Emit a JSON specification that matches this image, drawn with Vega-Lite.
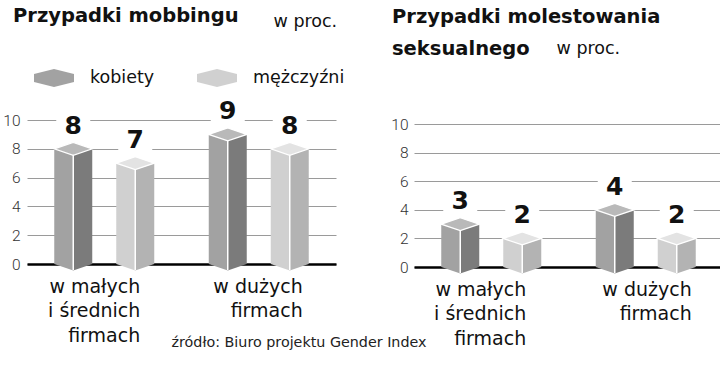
{
  "$schema": "https://vega.github.io/schema/vega-lite/v6.json",
  "background": "white",
  "padding": {"left": 2, "top": 5, "right": 0, "bottom": 0},
  "bounds": "flush",
  "spacing": 78,
  "config": {"view": {"stroke": null}, "font": "DejaVu Sans"},
  "resolve": {"scale": {"color": "independent", "y": "independent", "x": "independent", "xOffset": "independent"}},
  "datasets": {
    "mob": [
      {"group": "w małych i średnich firmach", "sex": "kobiety", "value": 8},
      {"group": "w małych i średnich firmach", "sex": "mężczyźni", "value": 7},
      {"group": "w dużych firmach", "sex": "kobiety", "value": 9},
      {"group": "w dużych firmach", "sex": "mężczyźni", "value": 8}
    ],
    "mol": [
      {"group": "w małych i średnich firmach", "sex": "kobiety", "value": 3},
      {"group": "w małych i średnich firmach", "sex": "mężczyźni", "value": 2},
      {"group": "w dużych firmach", "sex": "kobiety", "value": 4},
      {"group": "w dużych firmach", "sex": "mężczyźni", "value": 2}
    ]
  },
  "hconcat": [
    {
      "width": 309,
      "height": 144,
      "data": {"name": "mob"},
      "title": {"text": "Przypadki mobbingu", "anchor": "start", "frame": "group", "fontSize": 19.5, "fontWeight": "bold", "baseline": "alphabetic", "offset": -29, "dx": -14, "color": "#111"},
      "encoding": {
        "x": {"field": "group", "type": "nominal", "sort": ["w małych i średnich firmach", "w dużych firmach"],
          "scale": {"paddingInner": 0, "paddingOuter": 0},
          "axis": {"title": "źródło: Biuro projektu Gender Index", "titleX": 144, "titleY": 82, "titleAlign": "left", "titleAnchor": null, "titleBaseline": "alphabetic", "titleFontWeight": "normal", "titleFontSize": 14.3, "titleColor": "#222",
            "domain": true, "domainColor": "#000", "domainWidth": 2.5, "ticks": false, "grid": false, "labelAngle": 0,
            "labelExpr": "datum.value === 'w dużych firmach' ? ['w dużych', 'firmach'] : ['w małych', 'i średnich', 'firmach']",
            "labelAlign": "right", "labelBaseline": "alphabetic", "labelPadding": 28, "labelLineHeight": 24.5, "labelFontSize": 19, "labelColor": "#111",
            "labelOffset": {"condition": {"test": "datum.value === 'w dużych firmach'", "value": 44}, "value": 36}}},
        "xOffset": {"field": "sex", "type": "nominal", "sort": ["kobiety", "mężczyźni"], "scale": {"paddingInner": 0, "paddingOuter": 0.246}},
        "y": {"field": "value", "type": "quantitative", "scale": {"domain": [0, 10], "nice": false},
          "axis": {"values": [0, 2, 4, 6, 8, 10], "domain": false, "ticks": false, "grid": true, "gridColor": "#9a9a9a", "gridWidth": 1,
            "labelPadding": 7, "labelFont": "Roboto", "labelFontSize": 15.5, "labelFontWeight": 300, "labelColor": "#333",
            "title": "w proc.", "titleX": 246, "titleY": -94, "titleAngle": 0, "titleAlign": "left", "titleAnchor": null, "titleBaseline": "alphabetic", "titleFontWeight": "normal", "titleFontSize": 17.5, "titleColor": "#111"}}
      },
      "layer": [
        {"mark": {"type": "point", "shape": "M -1 -0.7 L 1 -0.7 L 1 0.7 L -1 0.7 Z", "size": 1156, "filled": true, "fill": "white", "opacity": 1, "yOffset": -24}},
        {"transform": [{"filter": "datum.sex === 'kobiety'"}],
          "mark": {"type": "bar", "width": 38, "fill": {"gradient": "linear", "x1": 0, "x2": 1, "y1": 0, "y2": 0, "stops": [{"offset": 0, "color": "#a2a2a2"}, {"offset": 0.5, "color": "#a2a2a2"}, {"offset": 0.5, "color": "#7b7b7b"}, {"offset": 1, "color": "#7b7b7b"}]}}},
        {"transform": [{"filter": "datum.sex === 'mężczyźni'"}],
          "mark": {"type": "bar", "width": 38, "fill": {"gradient": "linear", "x1": 0, "x2": 1, "y1": 0, "y2": 0, "stops": [{"offset": 0, "color": "#d0d0d0"}, {"offset": 0.5, "color": "#d0d0d0"}, {"offset": 0.5, "color": "#b3b3b3"}, {"offset": 1, "color": "#b3b3b3"}]}}},
        {"mark": {"type": "point", "shape": "M -1 0 L 0 0.34 L 0 0 Z", "size": 1444, "filled": true, "opacity": 1, "strokeWidth": 0},
          "encoding": {"y": {"datum": 0, "type": "quantitative"},
            "color": {"field": "sex", "type": "nominal", "sort": ["kobiety", "mężczyźni"], "scale": {"domain": ["kobiety", "mężczyźni"], "range": ["#a2a2a2", "#d0d0d0"]},
              "legend": {"orient": "none", "legendX": 7, "legendY": -62, "direction": "horizontal", "title": null, "columns": 2,
                "symbolType": "M -1 -0.2 L 0 -0.45 L 1 -0.2 L 1 0.2 L 0 0.45 L -1 0.2 Z", "symbolSize": 1600, "symbolStrokeWidth": 0, "symbolOpacity": 1,
                "labelFontSize": 17.5, "labelColor": "#111", "labelOffset": 16, "columnPadding": 42}}}},
        {"mark": {"type": "point", "shape": "M 0 0 L 0 0.34 L 1 0 Z", "size": 1444, "filled": true, "opacity": 1, "strokeWidth": 0},
          "encoding": {"y": {"datum": 0, "type": "quantitative"},
            "fill": {"condition": {"test": "datum.sex === 'kobiety'", "value": "#7b7b7b"}, "value": "#b3b3b3"}}},
        {"mark": {"type": "point", "shape": "M -1 0 L 0 -0.34 L 1 0 L 0 0.34 Z", "size": 1444, "filled": true, "opacity": 1, "stroke": "white", "strokeWidth": 1.3},
          "encoding": {"fill": {"condition": {"test": "datum.sex === 'kobiety'", "value": "#b9b9b9"}, "value": "#e3e3e3"}}},
        {"mark": {"type": "rule", "color": "white", "strokeWidth": 1.5, "yOffset": 6, "y2Offset": 6},
          "encoding": {"y2": {"datum": 0}}},
        {"mark": {"type": "text", "dy": -15, "fontSize": 25, "fontWeight": "bold", "baseline": "alphabetic", "color": "#111"},
          "encoding": {"text": {"field": "value", "type": "quantitative"}}}
      ]
    },
    {
      "width": 309,
      "height": 147,
      "data": {"name": "mol"},
      "title": {"text": ["Przypadki molestowania", "seksualnego"], "anchor": "start", "frame": "group", "fontSize": 19.5, "fontWeight": "bold", "baseline": "alphabetic", "lineHeight": 32, "offset": -35, "dx": -22, "color": "#111"},
      "encoding": {
        "x": {"field": "group", "type": "nominal", "sort": ["w małych i średnich firmach", "w dużych firmach"],
          "scale": {"paddingInner": 0, "paddingOuter": 0},
          "axis": {"title": null,
            "domain": true, "domainColor": "#000", "domainWidth": 2.5, "ticks": false, "grid": false, "labelAngle": 0,
            "labelExpr": "datum.value === 'w dużych firmach' ? ['w dużych', 'firmach'] : ['w małych', 'i średnich', 'firmach']",
            "labelAlign": "right", "labelBaseline": "alphabetic", "labelPadding": 28, "labelLineHeight": 24.5, "labelFontSize": 19, "labelColor": "#111",
            "labelOffset": {"condition": {"test": "datum.value === 'w dużych firmach'", "value": 46}, "value": 35}}},
        "xOffset": {"field": "sex", "type": "nominal", "sort": ["kobiety", "mężczyźni"], "scale": {"paddingInner": 0, "paddingOuter": 0.246}},
        "y": {"field": "value", "type": "quantitative", "scale": {"domain": [0, 10.3], "nice": false},
          "axis": {"values": [0, 2, 4, 6, 8, 10], "domain": false, "ticks": false, "grid": true, "gridColor": "#9a9a9a", "gridWidth": 1,
            "labelPadding": 6, "labelFont": "Roboto", "labelFontSize": 15.5, "labelFontWeight": 300, "labelColor": "#333",
            "title": "w proc.", "titleX": 142, "titleY": -67, "titleAngle": 0, "titleAlign": "left", "titleAnchor": null, "titleBaseline": "alphabetic", "titleFontWeight": "normal", "titleFontSize": 17.5, "titleColor": "#111"}}
      },
      "layer": [
        {"mark": {"type": "point", "shape": "M -1 -0.7 L 1 -0.7 L 1 0.7 L -1 0.7 Z", "size": 1156, "filled": true, "fill": "white", "opacity": 1, "yOffset": -24}},
        {"transform": [{"filter": "datum.sex === 'kobiety'"}],
          "mark": {"type": "bar", "width": 38, "fill": {"gradient": "linear", "x1": 0, "x2": 1, "y1": 0, "y2": 0, "stops": [{"offset": 0, "color": "#a2a2a2"}, {"offset": 0.5, "color": "#a2a2a2"}, {"offset": 0.5, "color": "#7b7b7b"}, {"offset": 1, "color": "#7b7b7b"}]}}},
        {"transform": [{"filter": "datum.sex === 'mężczyźni'"}],
          "mark": {"type": "bar", "width": 38, "fill": {"gradient": "linear", "x1": 0, "x2": 1, "y1": 0, "y2": 0, "stops": [{"offset": 0, "color": "#d0d0d0"}, {"offset": 0.5, "color": "#d0d0d0"}, {"offset": 0.5, "color": "#b3b3b3"}, {"offset": 1, "color": "#b3b3b3"}]}}},
        {"mark": {"type": "point", "shape": "M -1 0 L 0 0.34 L 0 0 Z", "size": 1444, "filled": true, "opacity": 1, "strokeWidth": 0},
          "encoding": {"y": {"datum": 0, "type": "quantitative"},
            "fill": {"condition": {"test": "datum.sex === 'kobiety'", "value": "#a2a2a2"}, "value": "#d0d0d0"}}},
        {"mark": {"type": "point", "shape": "M 0 0 L 0 0.34 L 1 0 Z", "size": 1444, "filled": true, "opacity": 1, "strokeWidth": 0},
          "encoding": {"y": {"datum": 0, "type": "quantitative"},
            "fill": {"condition": {"test": "datum.sex === 'kobiety'", "value": "#7b7b7b"}, "value": "#b3b3b3"}}},
        {"mark": {"type": "point", "shape": "M -1 0 L 0 -0.34 L 1 0 L 0 0.34 Z", "size": 1444, "filled": true, "opacity": 1, "stroke": "white", "strokeWidth": 1.3},
          "encoding": {"fill": {"condition": {"test": "datum.sex === 'kobiety'", "value": "#b9b9b9"}, "value": "#e3e3e3"}}},
        {"mark": {"type": "rule", "color": "white", "strokeWidth": 1.5, "yOffset": 6, "y2Offset": 6},
          "encoding": {"y2": {"datum": 0}}},
        {"mark": {"type": "text", "dy": -15, "fontSize": 25, "fontWeight": "bold", "baseline": "alphabetic", "color": "#111"},
          "encoding": {"text": {"field": "value", "type": "quantitative"}}}
      ]
    }
  ]
}
